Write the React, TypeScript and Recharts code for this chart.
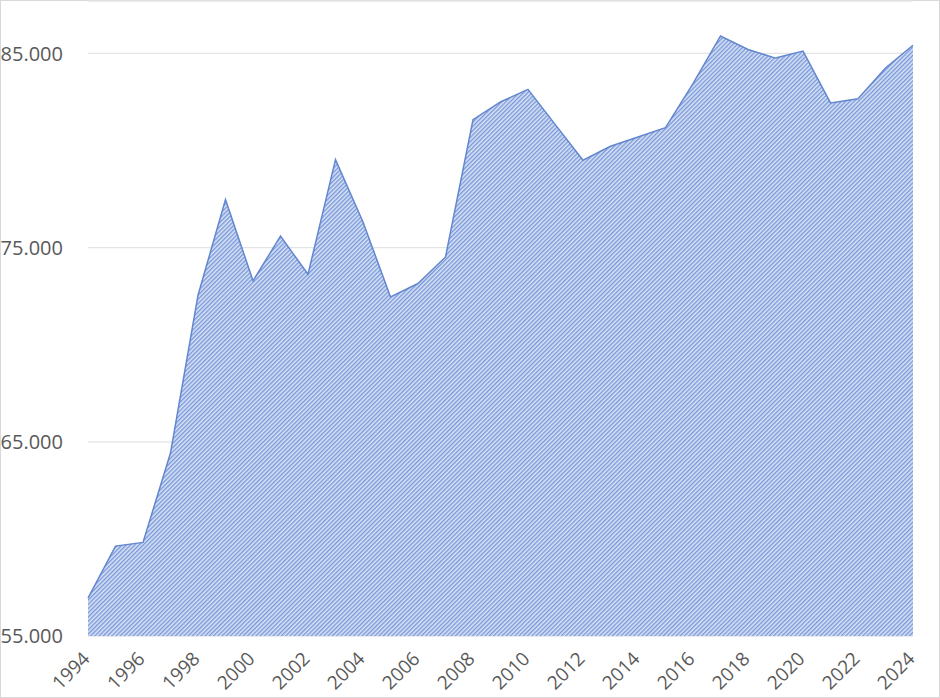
import { AreaChart, Area, XAxis, YAxis, CartesianGrid } from 'recharts';

const YEARS = [
  1994, 1995, 1996, 1997, 1998, 1999, 2000, 2001, 2002, 2003, 2004, 2005, 2006, 2007, 2008, 2009,
  2010, 2011, 2012, 2013, 2014, 2015, 2016, 2017, 2018, 2019, 2020, 2021, 2022, 2023, 2024,
];

const VALUES = [
  56950, 59630, 59820, 64420, 72550, 77480, 73290, 75590, 73630, 79530, 76320, 72460, 73150, 74520,
  81590, 82500, 83150, 81320, 79500, 80220, 80700, 81180, 83450, 85900, 85200, 84760, 85120, 82450,
  82670, 84250, 85420,
];

const X_TICKS = [1994, 1996, 1998, 2000, 2002, 2004, 2006, 2008, 2010, 2012, 2014, 2016, 2018, 2020, 2022, 2024];
const Y_TICKS = [55000, 65000, 75000, 85000];

const data = YEARS.map((year, i) => ({ year, value: VALUES[i] }));

// 85000 -> "85.000"
const yLabel = (v: number) => `${Math.floor(v / 1000)}.${String(v % 1000).padStart(3, '0')}`;

const FONT = '"Open Sans", sans-serif';

const YearTick = (props: any) => {
  const { x, y, payload } = props;
  const tx = x + 3;
  const ty = y + 22;
  return (
    <text
      x={tx}
      y={ty}
      transform={`rotate(-45, ${tx}, ${ty})`}
      textAnchor="end"
      fill="#595959"
      fontSize={19}
      fontFamily={FONT}
    >
      {payload.value}
    </text>
  );
};

export default function App() {
  return (
    <div
      style={{
        position: 'absolute',
        left: 0,
        top: 0,
        width: 940,
        height: 698,
        border: '1px solid #d9d9d9',
        boxSizing: 'border-box',
        background: '#fff',
      }}
    >
      <div style={{ position: 'absolute', left: -1, top: -1 }}>
        <AreaChart width={940} height={698} data={data} margin={{ top: 1, right: 27, bottom: 0, left: 0 }}>
          <defs>
            <pattern
              id="hatch"
              patternUnits="userSpaceOnUse"
              width={3}
              height={3}
              patternTransform="rotate(45)"
            >
              <rect x={0} y={0} width={3} height={3} fill="#dbe4f6" />
              <rect x={0} y={0} width={1.4} height={3} fill="#7898d8" />
            </pattern>
          </defs>
          <CartesianGrid vertical={false} stroke="#e3e3e3" strokeWidth={1.3} />
          <XAxis
            dataKey="year"
            type="number"
            domain={[1994, 2024]}
            ticks={X_TICKS}
            height={62}
            tickSize={0}
            tickLine={false}
            axisLine={false}
            tick={<YearTick />}
            interval={0}
          />
          <YAxis
            domain={[55000, 87700]}
            ticks={Y_TICKS}
            width={88}
            tickSize={0}
            tickMargin={25}
            tickLine={false}
            axisLine={false}
            allowDataOverflow
            tickFormatter={yLabel}
            tick={{ fill: '#595959', fontSize: 20, fontFamily: FONT }}
          />
          <Area
            type="linear"
            dataKey="value"
            stroke="#6287d0"
            strokeWidth={1.5}
            fill="url(#hatch)"
            fillOpacity={1}
            isAnimationActive={false}
            dot={false}
            activeDot={false}
          />
        </AreaChart>
      </div>
    </div>
  );
}
